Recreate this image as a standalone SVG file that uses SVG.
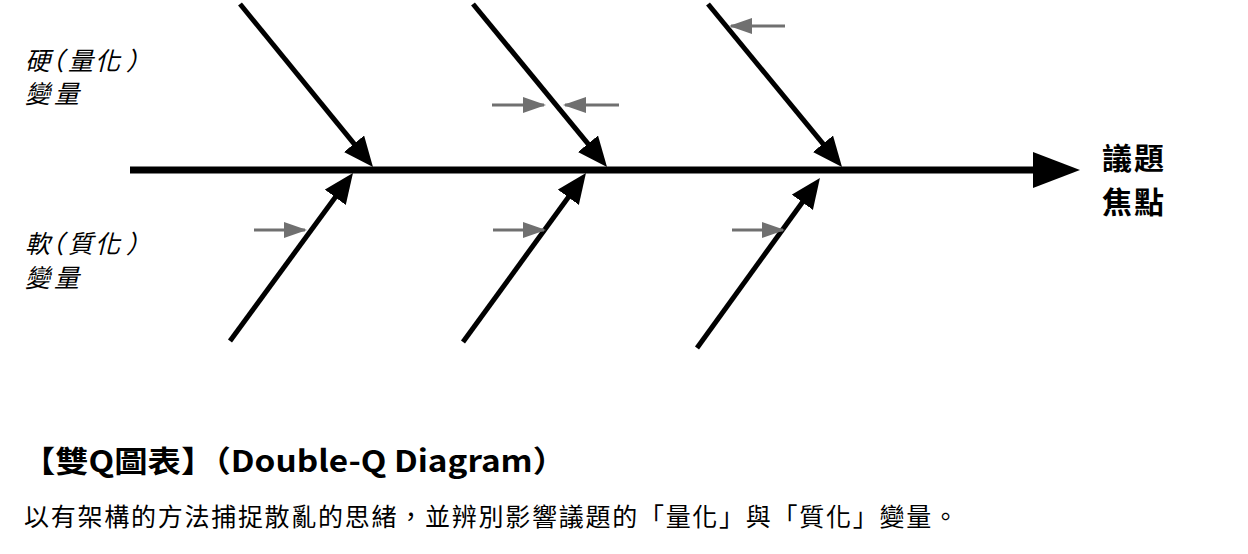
<svg xmlns="http://www.w3.org/2000/svg" width="1248" height="554" viewBox="0 0 1248 554">
<style>
.bone{stroke:#000;stroke-width:5;fill:none}
.spine{stroke:#000;stroke-width:7;fill:none}
.g{stroke:#707070;stroke-width:3;fill:none}
.lbl{font-family:"Noto Sans CJK TC","Noto Sans CJK SC",sans-serif;font-size:25px;font-style:italic;fill:#000}
.focus{font-family:"Noto Sans CJK TC","Noto Sans CJK SC",sans-serif;font-size:30px;font-weight:bold;fill:#000;letter-spacing:2px}
.title{font-family:"Noto Sans CJK TC","Noto Sans CJK SC",sans-serif;font-size:30px;font-weight:bold;fill:#000}
.sub{font-family:"Noto Sans CJK TC","Noto Sans CJK SC",sans-serif;font-size:25px;fill:#000}
</style>
<defs>
<marker id="ab" markerUnits="userSpaceOnUse" markerWidth="32" markerHeight="28" refX="18" refY="13" orient="auto">
<path d="M0,0 L30,13 L0,26 z" fill="#000"/>
</marker>
<marker id="ag" markerUnits="userSpaceOnUse" markerWidth="24" markerHeight="18" refX="21" refY="8" orient="auto">
<path d="M0,0 L23,8 L0,16 z" fill="#707070"/>
</marker>
</defs>
<g id="connectors">
<line class="spine" x1="130" y1="170" x2="1040" y2="170"/>
<polygon points="1033,152 1080,170 1033,188" fill="#000"/>
<line class="bone" x1="240" y1="4" x2="365.4" y2="157.7" marker-end="url(#ab)"/>
<line class="bone" x1="473" y1="4" x2="599.4" y2="157.7" marker-end="url(#ab)"/>
<line class="bone" x1="708" y1="4" x2="834.4" y2="157.7" marker-end="url(#ab)"/>
<line class="bone" x1="230" y1="341" x2="345.9" y2="182.7" marker-end="url(#ab)"/>
<line class="bone" x1="463" y1="342" x2="578.9" y2="182.7" marker-end="url(#ab)"/>
<line class="bone" x1="697" y1="348" x2="812.9" y2="187.7" marker-end="url(#ab)"/>
<line class="g" x1="254" y1="230" x2="305" y2="230" marker-end="url(#ag)"/>
<line class="g" x1="492" y1="105" x2="544" y2="105" marker-end="url(#ag)"/>
<line class="g" x1="619" y1="105" x2="565" y2="105" marker-end="url(#ag)"/>
<line class="g" x1="785" y1="26" x2="731" y2="26" marker-end="url(#ag)"/>
<line class="g" x1="493" y1="230" x2="544" y2="230" marker-end="url(#ag)"/>
<line class="g" x1="732" y1="230" x2="783" y2="230" marker-end="url(#ag)"/>
</g>
<g id="hard-label">
<text class="lbl" x="25 39 68 95 126" y="70">硬（量化）</text>
<text class="lbl" x="25 54" y="103">變量</text>
</g>
<g id="soft-label">
<text class="lbl" x="25 39 68 95 126" y="253">軟（質化）</text>
<text class="lbl" x="25 54" y="287">變量</text>
</g>
<g id="focus">
<text class="focus" x="1102" y="169">議題</text>
<text class="focus" x="1102" y="213">焦點</text>
</g>
<g id="caption">
<text class="title" x="22" y="472" textLength="544" lengthAdjust="spacingAndGlyphs">【雙Q圖表】（Double-Q Diagram）</text>
<text class="sub" x="24" y="526" textLength="934" lengthAdjust="spacing">以有架構的方法捕捉散亂的思緒，並辨別影響議題的「量化」與「質化」變量。</text>
</g>
</svg>
